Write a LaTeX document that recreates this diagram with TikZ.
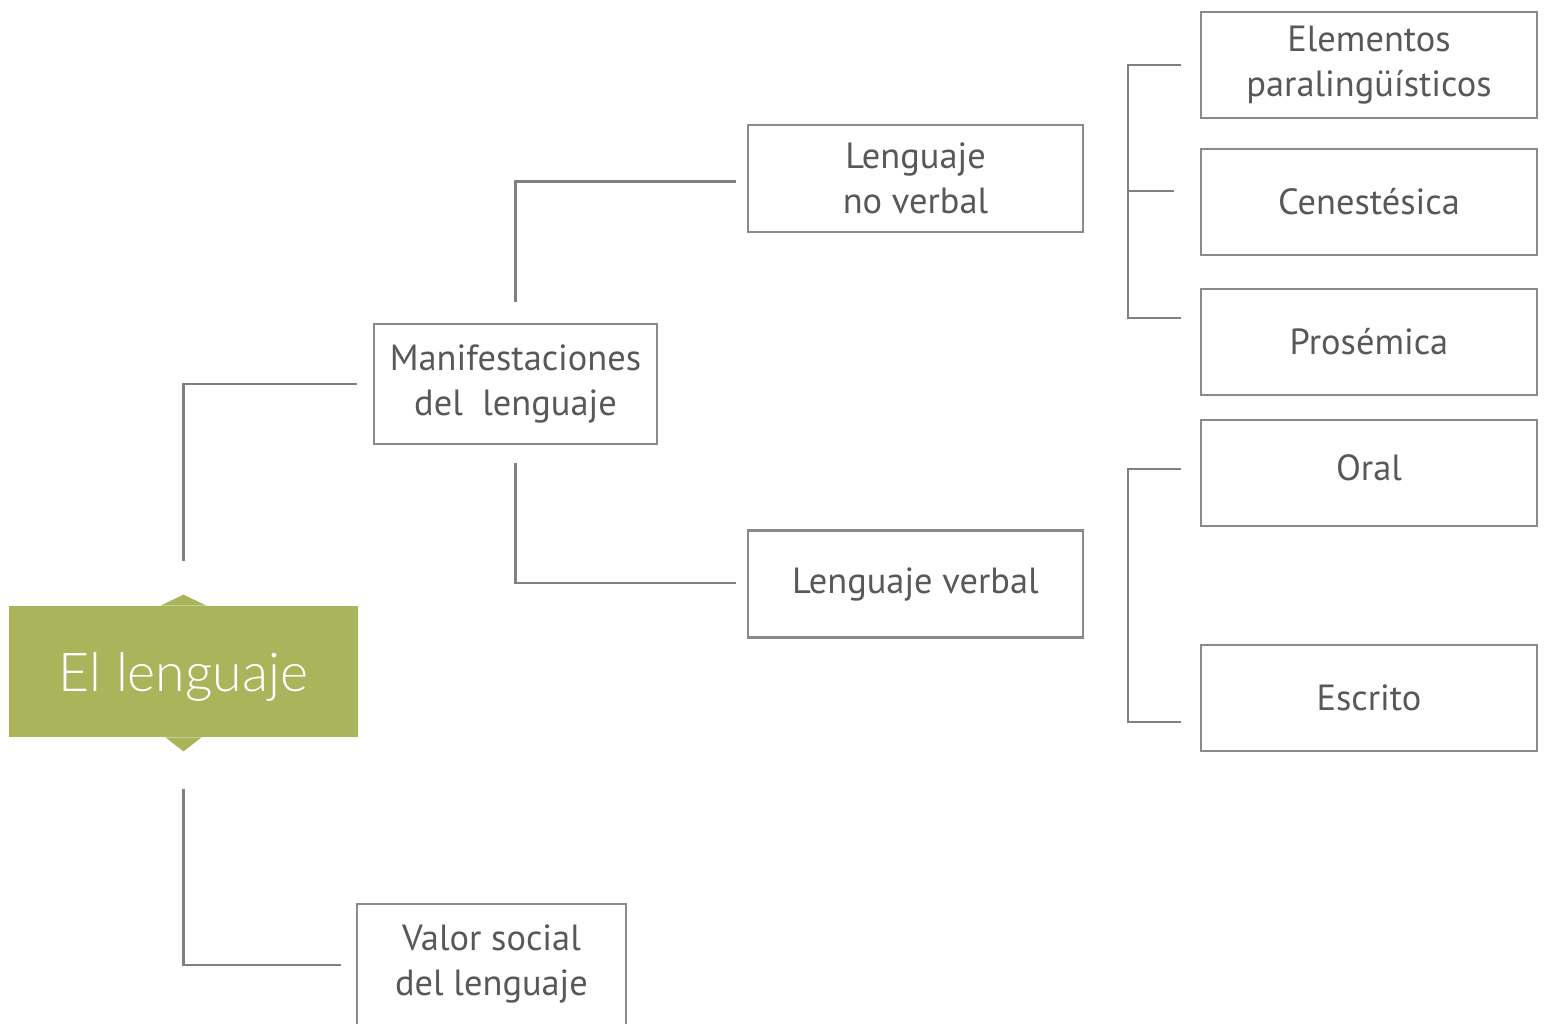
\documentclass[tikz,border=0pt]{standalone}
\usepackage{fontspec}
\setmainfont{PT Sans}
\newfontfamily\titlefont{Lato Light}
\definecolor{leaf}{HTML}{A9B45B}
\definecolor{frame}{HTML}{8A8A8A}
\definecolor{wire}{HTML}{808080}
\definecolor{ink}{HTML}{57585A}

\begin{document}
\begin{tikzpicture}[x=0.5pt,y=-0.5pt,
   box/.style={draw=frame,line width=1.1pt,text=ink,align=center,inner sep=0pt,
               font=\fontsize{18.2}{22.5}\selectfont},
   wide/.style={box,minimum width=168pt,minimum height=53pt},
   link/.style={draw=wire,line width=1.2pt}]
   \useasboundingbox (0,0) rectangle (1546,1023);
   % root
   \node[fill=leaf,minimum width=174.5pt,minimum height=65.5pt,inner sep=0pt,text depth=0pt,
         text=white,font=\titlefont\fontsize{26.8}{30}\selectfont] (lang) at (183.5,671.5) {El lenguaje};
   \fill[leaf] ([xshift=-11.5pt]lang.north) -- ([yshift=5.5pt]lang.north) -- ([xshift=11.5pt]lang.north) -- cycle;
   \fill[leaf] ([xshift=-9pt]lang.south) -- ([yshift=-7pt]lang.south) -- ([xshift=9pt]lang.south) -- cycle;
   % second level
   \node[box,minimum width=141.5pt,minimum height=60pt] (man) at (515.5,384) {Manifestaciones\\del\ \ lenguaje};
   \node[box,draw=none,minimum width=133.5pt,minimum height=59pt] (val) at (491.5,964) {Valor social\\del lenguaje};
   \draw[draw=frame,line width=1.1pt] ([yshift=-20pt]val.south west) -- (val.north west) -- (val.north east) -- ([yshift=-20pt]val.south east);
   % third level
   \node[box,minimum width=167.5pt,minimum height=53.5pt] (nov) at (915.5,178.5) {Lenguaje\\no verbal};
   \node[box,minimum width=167.5pt,minimum height=53.5pt] (ver) at (915.5,584) {Lenguaje verbal};
   % leaves
   \node[wide] (ele) at (1369,65) {Elementos\\paraling\"u\'isticos};
   \node[wide] (cen) at (1369,202) {Cenest\'esica};
   \node[wide] (pro) at (1369,342) {Pros\'emica};
   \node[wide,text depth=5pt] (ora) at (1369,473) {Oral};
   \node[wide] (esc) at (1369,698) {Escrito};
   % connectors
   \draw[link] ([yshift=22.5pt]lang.north) |- ([xshift=-8pt]man.west);
   \draw[link] ([yshift=-26pt]lang.south) |- ([xshift=-8pt,yshift=-0.5pt]val.west);
   \draw[link] ([yshift=10.5pt]man.north) |- ([xshift=-5.5pt,yshift=-1.5pt]nov.west);
   \draw[link] ([yshift=-9pt]man.south) |- ([xshift=-5.5pt,yshift=0.5pt]ver.west);
   \draw[link] ([xshift=-9.5pt]ele.west) -- ++(-26.5pt,0) |- ([xshift=-9.5pt,yshift=12pt]pro.west);
   \draw[link] ([xshift=-13pt,yshift=5.5pt]cen.west) -- ++(-23pt,0);
   \draw[link] ([xshift=-9.5pt,yshift=2pt]ora.west) -- ++(-26.5pt,0) |- ([xshift=-9.5pt,yshift=-12pt]esc.west);
\end{tikzpicture}
\end{document}
